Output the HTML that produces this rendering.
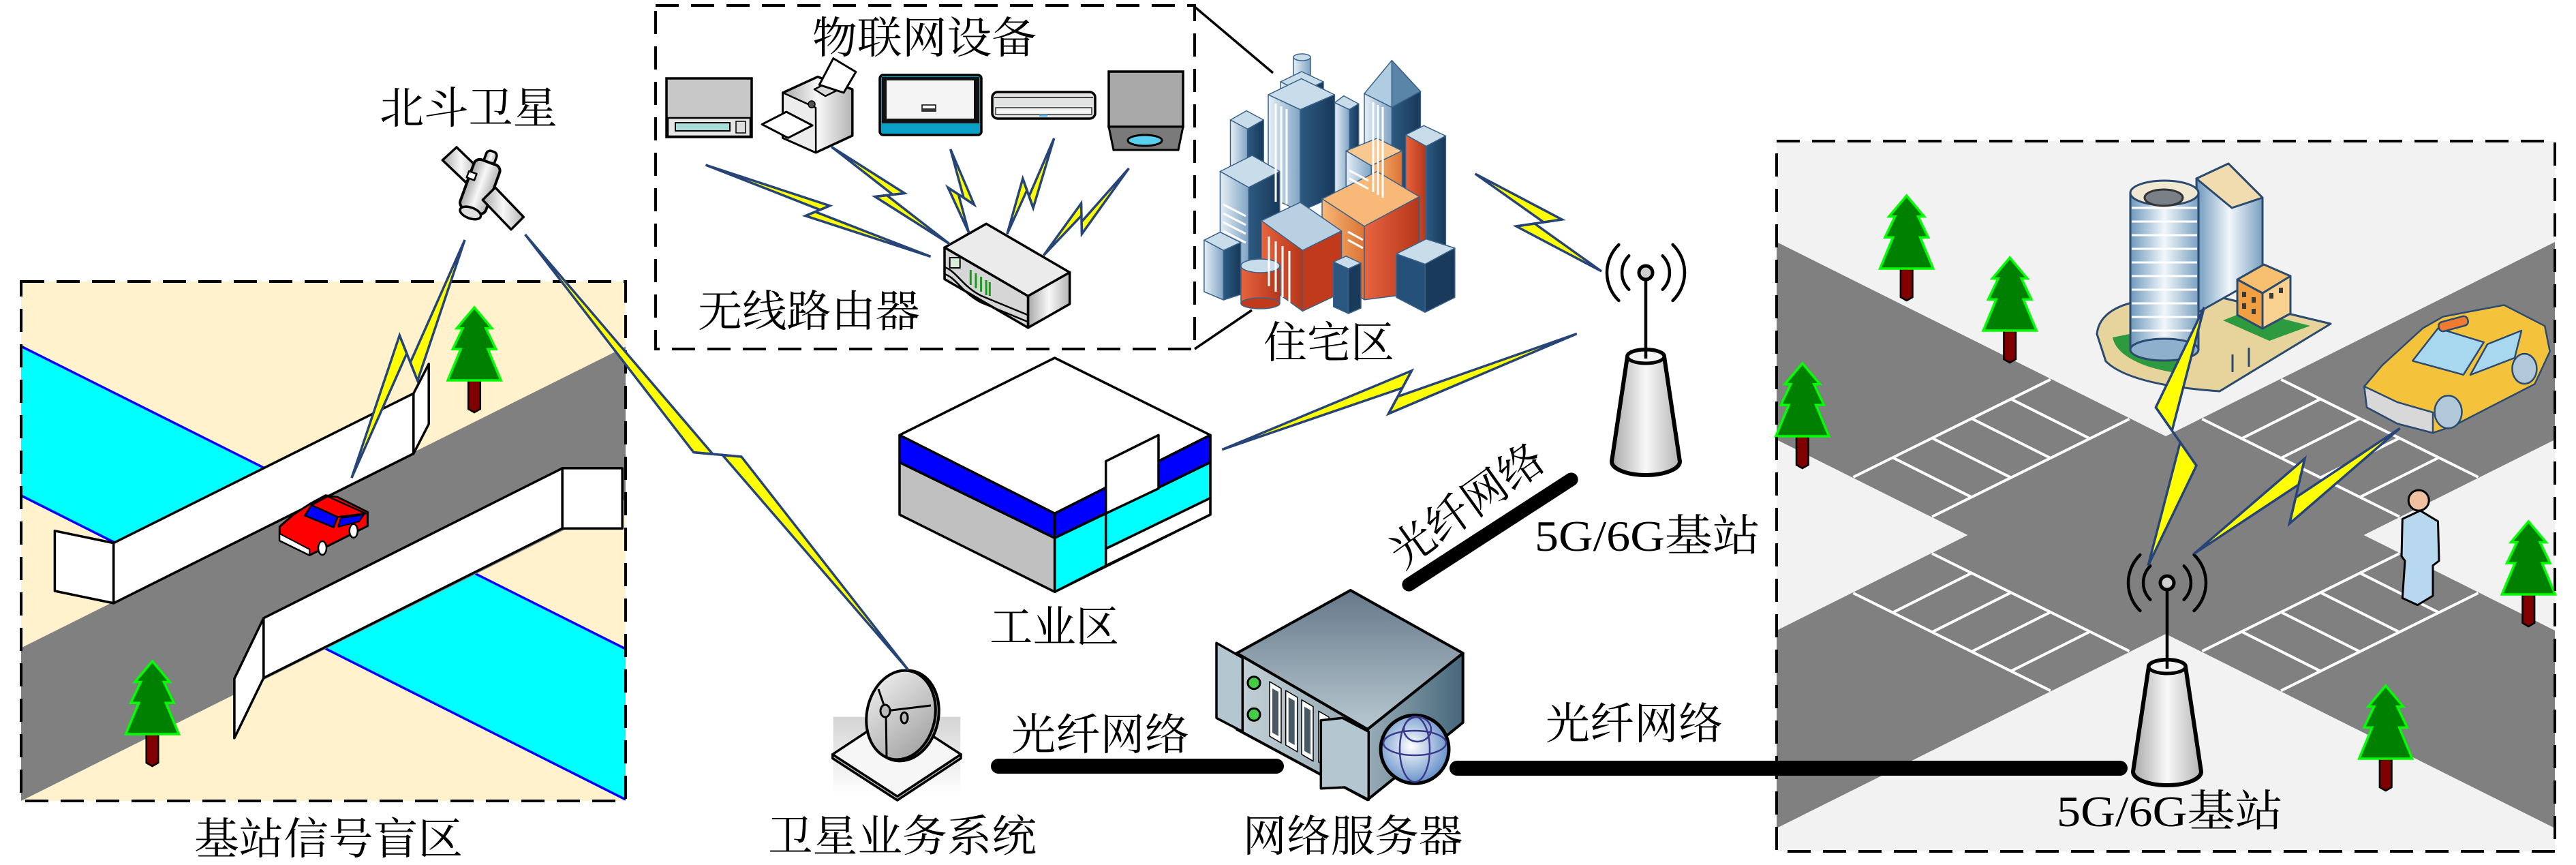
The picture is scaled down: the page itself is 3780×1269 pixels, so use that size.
<!DOCTYPE html>
<html><head><meta charset="utf-8"><style>
html,body{margin:0;padding:0;background:#fff;}
svg{display:block;}
text{font-family:"Liberation Serif","Noto Serif CJK SC","Noto Sans CJK SC",serif;fill:#000;font-size:64px;}
</style></head><body>
<svg width="3780" height="1269" viewBox="0 0 3780 1269" xmlns="http://www.w3.org/2000/svg">
<defs>
<linearGradient id="gMetal" x1="0" y1="0" x2="1" y2="0"><stop offset="0" stop-color="#a8a8a8"/><stop offset="0.5" stop-color="#f8f8f8"/><stop offset="1" stop-color="#b4b4b4"/></linearGradient>
<linearGradient id="gBg" x1="0" y1="0" x2="0" y2="1"><stop offset="0" stop-color="#d4d4d4"/><stop offset="1" stop-color="#ffffff"/></linearGradient>
<linearGradient id="gDish" x1="0" y1="0" x2="1" y2="1"><stop offset="0" stop-color="#f4f4f4"/><stop offset="1" stop-color="#9a9a9a"/></linearGradient>
<linearGradient id="lb" x1="0" y1="0" x2="1" y2="0"><stop offset="0" stop-color="#e6eff6"/><stop offset="1" stop-color="#7fa4c4"/></linearGradient>
<linearGradient id="nv" x1="0" y1="0" x2="1" y2="0"><stop offset="0" stop-color="#2d5a80"/><stop offset="1" stop-color="#173859"/></linearGradient>
<linearGradient id="rd" x1="0" y1="0" x2="1" y2="0"><stop offset="0" stop-color="#e8643e"/><stop offset="1" stop-color="#b5361a"/></linearGradient>
<linearGradient id="og" x1="0" y1="0" x2="1" y2="0"><stop offset="0" stop-color="#f6b878"/><stop offset="1" stop-color="#dc7434"/></linearGradient>
<linearGradient id="sTop" x1="0" y1="0" x2="0" y2="1"><stop offset="0" stop-color="#66798a"/><stop offset="1" stop-color="#b8c8d0"/></linearGradient>
<linearGradient id="sRight" x1="0" y1="0" x2="1" y2="0"><stop offset="0" stop-color="#98acb6"/><stop offset="1" stop-color="#45677a"/></linearGradient>
<linearGradient id="sFront" x1="0" y1="0" x2="1" y2="0"><stop offset="0" stop-color="#c4d2d8"/><stop offset="1" stop-color="#8ea2ac"/></linearGradient>
<radialGradient id="globe" cx="0.45" cy="0.45" r="0.6"><stop offset="0" stop-color="#ffffff"/><stop offset="1" stop-color="#5a88c4"/></radialGradient>
<linearGradient id="cyl" x1="0" y1="0" x2="1" y2="0"><stop offset="0" stop-color="#6e98bc"/><stop offset="0.5" stop-color="#f2f7fb"/><stop offset="1" stop-color="#7aa0c0"/></linearGradient>
<g id="tree">
 <polygon points="-8.8,104 8.8,104 8.8,149 0,154 -8.8,149" fill="#800000" stroke="#000" stroke-width="2.5"/>
 <polygon points="0,0 25.8,30.6 17,30.6 31.7,61.2 19.9,61.2 39,107 -39,107 -19.9,61.2 -31.7,61.2 -17,30.6 -25.8,30.6" fill="#008000" stroke="#00ff00" stroke-width="3.5"/>
</g>
<g id="tower">
 <g fill="none" stroke="#000" stroke-width="4.5" stroke-linecap="round">
  <path d="M -39.6 -41 A 57 57 0 0 0 -39.6 41"/>
  <path d="M 39.6 -41 A 57 57 0 0 1 39.6 41"/>
  <path d="M -24.7 -24.7 A 35 35 0 0 0 -24.7 24.7"/>
  <path d="M 24.7 -24.7 A 35 35 0 0 1 24.7 24.7"/>
 </g>
 <path d="M -27 123 L -50 277 A 50 20 0 0 0 50 277 L 27 123 A 27 10 0 0 0 -27 123 Z" fill="url(#gMetal)" stroke="#000" stroke-width="6"/>
 <ellipse cx="0" cy="123" rx="27" ry="10" fill="#f4f4f4" stroke="#000" stroke-width="5"/>
 <line x1="0" y1="10" x2="0" y2="126" stroke="#000" stroke-width="4.5"/>
 <circle cx="0" cy="0" r="10" fill="#cfcfcf" stroke="#000" stroke-width="5"/>
</g>
</defs>

<rect width="3780" height="1269" fill="#fff"/>

<!-- ============ LEFT BOX ============ -->
<rect x="31" y="413" width="887" height="762" fill="#fff2cc"/>
<polygon points="31,508 918,952 918,1173 31,727" fill="#00ffff"/>
<line x1="31" y1="508" x2="918" y2="952" stroke="#0000ff" stroke-width="3.5"/>
<line x1="31" y1="727" x2="918" y2="1173" stroke="#0000ff" stroke-width="3.5"/>
<polygon points="31,950.5 918,508.5 918,732.5 31,1175" fill="#808080"/>
<g fill="#fff" stroke="#000" stroke-width="3.5" stroke-linejoin="round">
 <polygon points="80.4,778.8 166.7,796.6 166.7,884.9 80.4,867"/>
 <polygon points="166.7,884.9 166.7,796.6 606.8,577.2 606.8,665.5"/>
 <polygon points="606.8,577.2 629.2,533.9 629.2,622.1 606.8,665.5"/>
</g>
<use href="#tree" x="696" y="451"/>
<!-- car -->
<g stroke="#000" stroke-linejoin="round">
 <polygon points="410.3,782.9 410.3,793 454.3,814.5 539.4,771.6 539.4,751.2 495.4,729.3 477.7,726.7 454.3,739.5 430.8,754.8 410.3,772.7" fill="#ff0000" stroke-width="3"/>
 <polygon points="410.3,782.9 454.3,806 454.3,814.5 410.3,793" fill="#fff" stroke-width="2"/>
 <polygon points="447.2,756.3 457.2,741 495.4,758.4 489.5,773.7" fill="#0000ff" stroke-width="2.5"/>
 <polygon points="457.2,741 480.7,728.3 536.4,753.3 495.4,758.4" fill="#ff0000" stroke-width="2.5"/>
 <polygon points="496,773 500,760 534,755 527,765" fill="#0000ff" stroke-width="2"/>
 <ellipse cx="473" cy="804" rx="6" ry="10" fill="#fff" stroke-width="2.5"/>
 <ellipse cx="518.8" cy="778.8" rx="6" ry="10" fill="#fff" stroke-width="2.5"/>
</g>
<g fill="#fff" stroke="#000" stroke-width="3.5" stroke-linejoin="round">
 <polygon points="386.8,906.8 825.2,686.9 825.2,775.2 386.8,994.6"/>
 <polygon points="386.8,906.8 343.9,995.6 343.9,1082.9 386.8,994.6"/>
 <rect x="825.2" y="686.9" width="88" height="88.3"/>
</g>
<use href="#tree" x="223.5" y="970"/>
<rect x="31" y="413" width="887" height="762" fill="none" stroke="#000" stroke-width="4" stroke-dasharray="34 18"/>
<text x="482" y="1253" text-anchor="middle" textLength="394" lengthAdjust="spacingAndGlyphs">基站信号盲区</text>

<!-- ============ SATELLITE ============ -->
<text x="687.5" y="181" text-anchor="middle" textLength="261" lengthAdjust="spacingAndGlyphs">北斗卫星</text>
<g stroke="#000" stroke-linejoin="round">
 <polygon points="649.3,235 670,216 703.3,248.3 683.3,267.3" fill="url(#gMetal)" stroke-width="3.5"/>
 <g transform="rotate(20 705 272)">
  <rect x="697" y="219" width="16" height="22" rx="6" fill="url(#gMetal)" stroke-width="3.5"/>
  <rect x="685" y="236" width="40" height="76" rx="9" fill="url(#gMetal)" stroke-width="4"/>
  <rect x="682" y="258" width="12" height="10" fill="#fff" stroke-width="2.5"/>
  <ellipse cx="705" cy="315" rx="16" ry="8" fill="#e0e0e0" stroke-width="3.5"/>
 </g>
 <polygon points="708.3,293.3 726.7,275 768.3,318.3 750,336.7" fill="url(#gMetal)" stroke-width="3.5"/>
</g>

<!-- ============ IoT BOX ============ -->
<rect x="962" y="8" width="791" height="504" fill="none" stroke="#000" stroke-width="4" stroke-dasharray="34 18"/>
<line x1="1753" y1="10" x2="1868" y2="107" stroke="#000" stroke-width="3.5"/>
<line x1="1753" y1="512" x2="1837" y2="455" stroke="#000" stroke-width="3.5"/>
<text x="1356.5" y="78" text-anchor="middle" textLength="329" lengthAdjust="spacingAndGlyphs">物联网设备</text>
<text x="1187" y="479" text-anchor="middle" textLength="326" lengthAdjust="spacingAndGlyphs">无线路由器</text>
<!-- microwave -->
<rect x="978" y="115" width="125" height="86" fill="#c8c8c8" stroke="#000" stroke-width="3.5"/>
<rect x="980" y="173" width="121" height="27" fill="#e6e6e6" stroke="#000" stroke-width="2.5"/>
<rect x="991" y="180" width="80" height="12" fill="#a8dcd8" stroke="#000" stroke-width="2"/>
<rect x="1080" y="178" width="14" height="17" fill="#ddd" stroke="#000" stroke-width="1.5"/>
<!-- printer -->
<g stroke="#000" stroke-linejoin="round">
 <polygon points="1148.8,136 1199.8,112.7 1250.8,131 1250.8,199 1197.2,223.8 1148.8,202.3" fill="url(#gMetal)" stroke-width="3.5"/>
 <polygon points="1148.8,136 1197,158 1197.2,223.8 1148.8,202.3" fill="#ececec" stroke-width="2.5"/>
 <polygon points="1195,131 1225,116 1242,126 1211,141" fill="#d8d8d8" stroke-width="2.5"/>
 <polygon points="1202.3,124.4 1222.8,85.6 1255.9,105.5 1238,136" fill="#fff" stroke-width="3"/>
 <polygon points="1118.2,182.4 1153.9,164.1 1192.1,184 1156.4,202.3" fill="#fff" stroke-width="3"/>
 <circle cx="1191" cy="153" r="5" fill="#555" stroke-width="1.5"/>
</g>
<!-- scanner -->
<rect x="1291" y="110" width="149" height="88" rx="5" fill="#0aa0c8" stroke="#000" stroke-width="3.5"/>
<rect x="1294" y="113" width="143" height="68" fill="#111"/>
<rect x="1301" y="118" width="128" height="56" fill="#f4f4f4"/>
<rect x="1353" y="154" width="20" height="9" fill="#fff" stroke="#000" stroke-width="1.5"/>
<rect x="1353" y="159" width="20" height="4" fill="#333"/>
<!-- AC -->
<rect x="1456" y="135" width="151" height="39" rx="8" fill="#e2e4e4" stroke="#000" stroke-width="3.5"/>
<line x1="1459" y1="143" x2="1604" y2="143" stroke="#444" stroke-width="2"/>
<rect x="1461" y="158" width="141" height="10" fill="#f4f4f4" stroke="#333" stroke-width="1.5"/>
<rect x="1525" y="168" width="12" height="3" fill="#5ab0f0"/>
<!-- projector -->
<rect x="1627" y="105" width="109" height="81" fill="#a8a8a8" stroke="#000" stroke-width="3.5"/>
<polygon points="1627,186 1736,186 1729,220 1634,220" fill="#7a7a7a" stroke="#000" stroke-width="3"/>
<ellipse cx="1680" cy="206" rx="25" ry="8" fill="#5ad0f0" stroke="#000" stroke-width="3"/>
<!-- router -->
<g stroke="#000" stroke-linejoin="round">
 <polygon points="1386,363.1 1447.2,328.3 1569.7,399.6 1508.5,434.4" fill="#ebebeb" stroke-width="3.5"/>
 <polygon points="1508.5,434.4 1569.7,399.6 1569.7,446 1508.5,480.8" fill="url(#gMetal)" stroke-width="3.5"/>
 <polygon points="1386,363.1 1508.5,434.4 1508.5,480.8 1386,409.5" fill="#d6d6d6" stroke-width="3.5"/>
 <path d="M1386,392 C1404,398 1412,420 1440,434 L1508,462" fill="none" stroke-width="2.5"/>
 <path d="M1386,402 C1404,408 1412,430 1440,444 L1508,472" fill="none" stroke-width="2.5"/>
 <rect x="1393.7" y="378" width="15" height="15" fill="#d8eed8" stroke-width="2"/>
</g>
<g stroke="#1a9a1a" stroke-width="3">
 <line x1="1424.3" y1="396" x2="1424.3" y2="418"/>
 <line x1="1432" y1="401" x2="1432" y2="423"/>
 <line x1="1439.6" y1="406" x2="1439.6" y2="428"/>
 <line x1="1447.2" y1="411" x2="1447.2" y2="433"/>
 <line x1="1452.3" y1="414" x2="1452.3" y2="434"/>
</g>

<!-- ============ CITY ============ -->
<g stroke="#3a6288" stroke-width="1.5" stroke-linejoin="round">
 <polygon points="2002,137.3 2042.4,157.4 2042.4,300 2002,280" fill="url(#lb)"/>
 <polygon points="2042.4,157.4 2084.4,134 2084.4,280 2042.4,300" fill="url(#nv)"/>
 <polygon points="2002,137.3 2042.4,88.6 2042.4,157.4" fill="#b0cce0"/>
 <polygon points="2042.4,88.6 2084.4,134 2042.4,157.4" fill="#5a84a8"/>
 <polygon points="1958.4,150.7 1971.8,140.6 1993.7,152.4 1980.2,160.8" fill="#c8dcea"/>
 <polygon points="1958.4,150.7 1980.2,160.8 1980.2,300 1958.4,290" fill="url(#lb)"/>
 <polygon points="1980.2,160.8 1993.7,152.4 1993.7,290 1980.2,300" fill="url(#nv)"/>
 <rect x="1898" y="84" width="25" height="30" fill="url(#lb)"/>
 <ellipse cx="1910.5" cy="84" rx="12.5" ry="5" fill="#c8dcea"/>
 <polygon points="1879,120 1910,105 1942,120 1910,135" fill="#c8dcea"/>
 <polygon points="1879,120 1910,135 1910,150 1879,135" fill="url(#lb)"/>
 <polygon points="1910,135 1942,120 1942,135 1910,150" fill="url(#nv)"/>
 <polygon points="1861,139 1909.7,115.4 1958.4,139 1908,160.8" fill="#c8dcea"/>
 <polygon points="1861,139 1908,160.8 1908,310 1861,288" fill="url(#lb)"/>
 <polygon points="1908,160.8 1958.4,139 1958.4,288 1908,310" fill="url(#nv)"/>
 <polygon points="2062.6,197.8 2089.4,184.3 2121.4,199.4 2092.8,214.6" fill="#c8dcea"/>
 <polygon points="2062.6,197.8 2092.8,214.6 2092.8,446 2062.6,430" fill="url(#rd)"/>
 <polygon points="2092.8,214.6 2121.4,199.4 2121.4,430 2092.8,446" fill="url(#nv)"/>
 <polygon points="1805.5,176 1829,162.5 1854.2,176 1830.7,189.4" fill="#c8dcea"/>
 <polygon points="1805.5,176 1830.7,189.4 1830.7,262 1805.5,250" fill="url(#lb)"/>
 <polygon points="1830.7,189.4 1854.2,176 1854.2,250 1830.7,262" fill="url(#nv)"/>
 <polygon points="1790.4,251.5 1837.4,228 1877.8,251.5 1832.4,275" fill="#c8dcea"/>
 <polygon points="1790.4,251.5 1832.4,275 1832.4,430 1790.4,410" fill="url(#lb)"/>
 <polygon points="1832.4,275 1877.8,251.5 1877.8,410 1832.4,430" fill="url(#nv)"/>
 <polygon points="1766.9,352.3 1790.4,340.6 1820.6,355.7 1795.4,367.4" fill="#c8dcea"/>
 <polygon points="1766.9,352.3 1795.4,367.4 1795.4,440 1766.9,428" fill="url(#lb)"/>
 <polygon points="1795.4,367.4 1820.6,355.7 1820.6,432 1795.4,440" fill="url(#nv)"/>
 <polygon points="1975.2,221.3 2020.6,202.8 2057.5,221.3 2012.2,243.1" fill="#f8c890"/>
 <polygon points="1975.2,221.3 2012.2,243.1 2012.2,300 1975.2,280" fill="url(#lb)"/>
 <polygon points="2012.2,243.1 2057.5,221.3 2057.5,280 2012.2,300" fill="url(#og)"/>
 <polygon points="1940,291.8 2020.6,251.5 2082.7,288.5 2002,332" fill="#f8b878"/>
 <polygon points="1940,291.8 2002,332 2002,439.7 1940,399.4" fill="url(#og)"/>
 <polygon points="2002,332 2082.7,288.5 2082.7,429.6 2002,439.7" fill="url(#rd)"/>
 <polygon points="1850.9,323.8 1908,296.9 1968.5,338.9 1911.4,367.4" fill="#b8d0e2"/>
 <polygon points="1850.9,323.8 1911.4,367.4 1911.4,456.5 1850.9,412.8" fill="url(#rd)"/>
 <polygon points="1911.4,367.4 1968.5,338.9 1968.5,429.6 1911.4,456.5" fill="#c23a1c"/>
 <rect x="1821" y="390" width="57" height="55" fill="url(#rd)"/>
 <ellipse cx="1849.5" cy="445" rx="28.5" ry="8" fill="#c23a1c"/>
 <ellipse cx="1849.5" cy="390" rx="28.5" ry="10" fill="#c8dcea"/>
 <polygon points="1956.7,384.2 1975.2,375.8 1997,386 1978.6,394.3" fill="#c8dcea"/>
 <polygon points="1956.7,384.2 1978.6,394.3 1978.6,460 1956.7,450" fill="#2a5680"/>
 <polygon points="1978.6,394.3 1997,386 1997,452 1978.6,460" fill="#1a3a5c"/>
 <polygon points="2049,372.5 2092.8,350.6 2134.8,364 2091.1,387.6" fill="#c8dcea"/>
 <polygon points="2049,372.5 2091.1,387.6 2091.1,458.2 2049,436.3" fill="#24507a"/>
 <polygon points="2091.1,387.6 2134.8,364 2134.8,436.3 2091.1,458.2" fill="#1a3a5c"/>
</g>
<g stroke="#fff" stroke-width="3">
 <line x1="1872" y1="152" x2="1872" y2="296"/>
 <line x1="1880" y1="156" x2="1880" y2="298"/>
 <line x1="1888" y1="160" x2="1888" y2="300"/>
 <line x1="2015" y1="150" x2="2015" y2="282"/>
 <line x1="2022" y1="154" x2="2022" y2="286"/>
 <line x1="2029" y1="157" x2="2029" y2="290"/>
 <line x1="1795" y1="300" x2="1828" y2="317"/>
 <line x1="1795" y1="313" x2="1828" y2="330"/>
 <line x1="1795" y1="326" x2="1828" y2="343"/>
 <line x1="1795" y1="339" x2="1828" y2="356"/>
 <line x1="1862" y1="347" x2="1862" y2="420"/>
 <line x1="1872" y1="354" x2="1872" y2="428"/>
 <line x1="1882" y1="361" x2="1882" y2="436"/>
 <line x1="1892" y1="368" x2="1892" y2="444"/>
 <line x1="1980" y1="250" x2="2008" y2="265"/>
 <line x1="1980" y1="262" x2="2008" y2="277"/>
 <line x1="1978" y1="340" x2="2000" y2="352"/>
 <line x1="1978" y1="352" x2="2000" y2="364"/>
</g>
<text x="1950" y="525" text-anchor="middle" textLength="192" lengthAdjust="spacingAndGlyphs">住宅区</text>

<!-- ============ INDUSTRIAL ============ -->
<g stroke="#000" stroke-width="3.5" stroke-linejoin="round">
 <polygon points="1320,638.3 1547.7,525 1776,638.3 1547.7,753.3" fill="#fff"/>
 <polygon points="1320,678.3 1547.7,789.3 1547.7,868.3 1320,755" fill="#c0c0c0"/>
 <polygon points="1320,638.3 1547.7,753.3 1547.7,789.3 1320,678.3" fill="#0000ff"/>
 <polygon points="1547.7,753.3 1776,638.3 1776,755 1547.7,868.3" fill="#fff"/>
 <polygon points="1547.7,753.3 1776,638.3 1776,678.3 1547.7,789.3" fill="#0000ff"/>
 <polygon points="1547.7,789.3 1622.7,753.3 1622.7,830 1547.7,868.3" fill="#00ffff"/>
 <polygon points="1622.7,753.3 1776,678.3 1776,730.7 1622.7,805" fill="#00ffff"/>
 <polygon points="1622.7,805 1776,730.7 1776,755 1622.7,830" fill="#fff"/>
 <polygon points="1622.7,676.7 1700,638.3 1700,716.7 1622.7,753.3" fill="#fff"/>
</g>
<text x="1547" y="942" text-anchor="middle" textLength="190" lengthAdjust="spacingAndGlyphs">工业区</text>

<!-- ============ DISH ============ -->
<rect x="1222.7" y="1051.7" width="186.6" height="115" fill="url(#gBg)"/>
<g stroke="#000" stroke-linejoin="round">
 <polygon points="1221.7,1106.7 1316.7,1168.3 1410,1106.7 1410,1112.5 1316.7,1174 1221.7,1112.5" fill="#c8c8c8" stroke-width="3.5"/>
 <polygon points="1221.7,1106.7 1315,1045 1410,1106.7 1316.7,1168.3" fill="#f6f6f6" stroke-width="3.5"/>
 <ellipse cx="1326" cy="1050" rx="51" ry="67" transform="rotate(12 1326 1050)" fill="#aaa" stroke-width="4"/>
 <ellipse cx="1322" cy="1049" rx="50" ry="66" transform="rotate(12 1322 1049)" fill="url(#gDish)" stroke-width="4"/>
 <line x1="1300" y1="1043" x2="1289" y2="1011" stroke-width="3"/>
 <line x1="1300" y1="1043" x2="1366" y2="1035" stroke-width="3"/>
 <line x1="1300" y1="1043" x2="1301" y2="1110" stroke-width="3"/>
 <ellipse cx="1299" cy="1043" rx="7" ry="9" fill="#bbb" stroke-width="3"/>
 <ellipse cx="1327" cy="1053" rx="5" ry="8" fill="#bbb" stroke-width="3"/>
</g>
<text x="1324" y="1249" text-anchor="middle" textLength="394" lengthAdjust="spacingAndGlyphs">卫星业务系统</text>

<!-- ============ SERVER ============ -->
<g stroke="#000" stroke-linejoin="round">
 <polygon points="1815,958.3 1981.7,866 2146.7,958.3 2006.7,1070" fill="url(#sTop)" stroke-width="4"/>
 <polygon points="2006.7,1070 2146.7,958.3 2146.7,1060 2006.7,1173.3" fill="url(#sRight)" stroke-width="4"/>
 <polygon points="1815,958.3 2006.7,1070 2006.7,1173.3 1815,1070" fill="url(#sFront)" stroke-width="4"/>
 <polygon points="1863,1000 1880,1010 1880,1090 1863,1080" fill="#fff" stroke-width="1.5"/>
 <polygon points="1886.7,1013 1903.7,1023 1903.7,1103 1886.7,1093" fill="#fff" stroke-width="1.5"/>
 <polygon points="1910,1026.7 1927,1036.7 1927,1116.7 1910,1106.7" fill="#fff" stroke-width="1.5"/>
 <polygon points="1935,1043.3 1950,1052 1950,1125 1935,1118" fill="#fff" stroke-width="1.5"/>
 <polygon points="1867,1010 1876,1015 1876,1080 1867,1075" fill="#4a5a64" stroke="none"/>
 <polygon points="1890.7,1023 1899.7,1028 1899.7,1093 1890.7,1088" fill="#4a5a64" stroke="none"/>
 <polygon points="1914,1036.7 1923,1041.7 1923,1106.7 1914,1101.7" fill="#4a5a64" stroke="none"/>
 <circle cx="1840" cy="1001.7" r="9" fill="#44cc44" stroke-width="3"/>
 <circle cx="1840" cy="1048.3" r="9" fill="#44cc44" stroke-width="3"/>
 <polygon points="1785,943.3 1823.3,965 1823.3,1073.3 1785,1053.3" fill="#b4c6d0" stroke-width="3.5"/>
 <polygon points="1938.3,1056.7 1970,1053.3 2008.3,1073.3 2008.3,1173.3 1973.3,1155 1938.3,1156.7" fill="#b4c6d0" stroke-width="3.5"/>
 <circle cx="2076" cy="1099.3" r="50" fill="url(#globe)" stroke-width="5"/>
</g>
<g fill="none" stroke="#3a3a8a" stroke-width="2.5">
 <ellipse cx="2076" cy="1099.3" rx="22" ry="48"/>
 <ellipse cx="2076" cy="1090" rx="46" ry="18"/>
 <ellipse cx="2080" cy="1070" rx="20" ry="18"/>
</g>
<text x="1985" y="1249" text-anchor="middle" textLength="323" lengthAdjust="spacingAndGlyphs">网络服务器</text>

<!-- ============ RIGHT BOX ============ -->
<rect x="2607" y="207" width="1142" height="1042" fill="#f2f2f2"/>
<polygon points="2607,355 3749,925 3749,1215 2607,645" fill="#808080"/>
<polygon points="2607,925 3749,355 3749,645 2607,1215" fill="#808080"/>
<g stroke="#fff" stroke-width="4">
 <line x1="2719.4" y1="700" x2="3008.9" y2="556.7"/><line x1="2835.1" y1="758" x2="3124.6" y2="614.7"/>
 <line x1="2777.3" y1="671.3" x2="2893" y2="729.3"/><line x1="2835.2" y1="642.7" x2="2950.9" y2="700.7"/>
 <line x1="2893.1" y1="614" x2="3008.8" y2="672"/><line x1="2951" y1="585.4" x2="3066.7" y2="643.4"/>
 <line x1="3636.6" y1="700" x2="3347.1" y2="556.7"/><line x1="3520.9" y1="758" x2="3231.4" y2="614.7"/>
 <line x1="3578.7" y1="671.3" x2="3463" y2="729.3"/><line x1="3520.8" y1="642.7" x2="3405.1" y2="700.7"/>
 <line x1="3462.9" y1="614" x2="3347.2" y2="672"/><line x1="3405" y1="585.4" x2="3289.3" y2="643.4"/>
 <line x1="2719.4" y1="870" x2="3008.9" y2="1013.3"/><line x1="2835.1" y1="812" x2="3124.6" y2="955.3"/>
 <line x1="2777.3" y1="898.7" x2="2893" y2="840.7"/><line x1="2835.2" y1="927.3" x2="2950.9" y2="869.3"/>
 <line x1="2893.1" y1="956" x2="3008.8" y2="898"/><line x1="2951" y1="984.6" x2="3066.7" y2="926.6"/>
 <line x1="3636.6" y1="870" x2="3347.1" y2="1013.3"/><line x1="3520.9" y1="812" x2="3231.4" y2="955.3"/>
 <line x1="3578.7" y1="898.7" x2="3463" y2="840.7"/><line x1="3520.8" y1="927.3" x2="3405.1" y2="869.3"/>
 <line x1="3462.9" y1="956" x2="3347.2" y2="898"/><line x1="3405" y1="984.6" x2="3289.3" y2="926.6"/>
</g>
<use href="#tree" x="2797.7" y="287"/>
<use href="#tree" x="2949.2" y="378"/>
<use href="#tree" x="2644.8" y="533"/>
<use href="#tree" x="3710.3" y="765"/>
<use href="#tree" x="3500.7" y="1006"/>
<!-- office building -->
<g stroke="#2a4a70" stroke-width="3" stroke-linejoin="round">
 <path d="M3077,490 C3080,460 3110,445 3150,440 L3249,434 L3420,475 L3257,574 C3200,570 3120,560 3090,530 Z" fill="#e6d49c"/>
 <path d="M3100,495 C3105,520 3140,540 3200,548 L3210,525 C3160,520 3130,510 3125,490 Z" fill="#2e9a40" stroke="none"/>
 <polygon points="3262,470 3300,455 3390,478 3330,500" fill="#2e9a40" stroke="none"/>
 <polygon points="3223,262 3270,240 3320,290 3320,405 3226,458" fill="url(#cyl)"/>
 <polygon points="3223,262 3270,240 3320,290 3275,305" fill="#f0dcae"/>
 <rect x="3126" y="283" width="100" height="230" fill="url(#cyl)"/>
 <ellipse cx="3176" cy="513" rx="50" ry="16" fill="#8fb0cc"/>
 <ellipse cx="3176" cy="283" rx="50" ry="18" fill="#f0e8d0"/>
 <ellipse cx="3175" cy="290" rx="28" ry="12" fill="#7a8088" stroke="#333"/>
 <polygon points="3283,410 3320,430 3320,482 3283,462" fill="#f0a040"/>
 <polygon points="3320,430 3361,405 3361,460 3320,482" fill="#f8d090"/>
 <polygon points="3283,410 3322,388 3361,405 3320,430" fill="#f6c070"/>
 <line x1="3276" y1="520" x2="3276" y2="546"/>
 <line x1="3300" y1="510" x2="3300" y2="538"/>
</g>
<g stroke="#fff" stroke-width="3">
 <line x1="3128" y1="305" x2="3224" y2="305"/><line x1="3128" y1="325" x2="3224" y2="325"/>
 <line x1="3128" y1="345" x2="3224" y2="345"/><line x1="3128" y1="365" x2="3224" y2="365"/>
 <line x1="3128" y1="385" x2="3224" y2="385"/><line x1="3128" y1="405" x2="3224" y2="405"/>
 <line x1="3128" y1="425" x2="3224" y2="425"/><line x1="3128" y1="445" x2="3224" y2="445"/>
 <line x1="3128" y1="465" x2="3224" y2="465"/><line x1="3128" y1="485" x2="3224" y2="485"/>
</g>
<g fill="#3a3a3a">
 <rect x="3290" y="428" width="6" height="8"/><rect x="3304" y="436" width="6" height="8"/>
 <rect x="3290" y="445" width="6" height="8"/><rect x="3304" y="453" width="6" height="8"/>
 <rect x="3330" y="430" width="6" height="8"/><rect x="3344" y="422" width="6" height="8"/>
</g>
<!-- taxi -->
<g stroke="#2a4a70" stroke-width="2.5" stroke-linejoin="round">
 <polygon points="3469.3,566.9 3495.4,536.2 3555.1,481.6 3585,464.5 3674.5,447.5 3734.2,478.2 3741.7,515.7 3719.3,563.5 3599.9,624.9 3570,635.1 3517.8,621.5 3473,597.6" fill="#f5c33b"/>
 <polygon points="3469.3,566.9 3517.8,590 3570,605 3570,635.1 3517.8,621.5 3473,597.6" fill="#d8d8d8"/>
 <polygon points="3540.2,529.4 3577.5,481.6 3644.7,502.1 3614.8,549.8" fill="#a8d8f0"/>
 <polygon points="3625,550 3650,505 3700,485 3690,525" fill="#a8d8f0"/>
 <rect x="3578" y="468" width="44" height="14" rx="6" transform="rotate(-15 3600 475)" fill="#f07a30"/>
 <ellipse cx="3592.5" cy="604.4" rx="20" ry="24" fill="#b0c8d8"/>
 <ellipse cx="3704.4" cy="541" rx="18" ry="22" fill="#b0c8d8"/>
</g>
<!-- person -->
<g stroke="#000" stroke-width="3" stroke-linejoin="round">
 <polygon points="3525.3,761.4 3551.4,749.1 3577.5,764.8 3579,822.8 3570,829.6 3570,874 3547.5,887.6 3525.3,877.4 3529,822.8 3524,816" fill="#b8d8f0"/>
 <circle cx="3549.2" cy="734.1" r="15" fill="#f0c0a0"/>
</g>
<rect x="2607" y="207" width="1142" height="1042" fill="none" stroke="#000" stroke-width="4" stroke-dasharray="34 18"/>

<!-- ============ FIBER LINES ============ -->
<g stroke="#000" stroke-width="22" stroke-linecap="round">
 <line x1="1465" y1="1124" x2="1873" y2="1124"/>
 <line x1="2138" y1="1127" x2="3111" y2="1127"/>
 <line x1="2067.4" y1="857.6" x2="2305.6" y2="703.4" stroke-width="20"/>
</g>
<text x="1614.5" y="1100" text-anchor="middle" textLength="261" lengthAdjust="spacingAndGlyphs">光纤网络</text>
<text x="2398" y="1084" text-anchor="middle" textLength="260" lengthAdjust="spacingAndGlyphs">光纤网络</text>
<text x="2151" y="764" text-anchor="middle" textLength="261" lengthAdjust="spacingAndGlyphs" transform="rotate(-35.6 2151 740)">光纤网络</text>

<!-- ============ TOWERS ============ -->
<use href="#tower" x="2415" y="400"/>
<use href="#tower" x="3180" y="855"/>
<text x="2417.5" y="808" text-anchor="middle" textLength="331" lengthAdjust="spacingAndGlyphs">5G/6G基站</text>
<text x="3184" y="1212" text-anchor="middle" textLength="332" lengthAdjust="spacingAndGlyphs">5G/6G基站</text>

<!-- ============ LIGHTNING BOLTS ============ -->
<g fill="#ffff00" stroke="#264478" stroke-width="3.5" stroke-linejoin="miter">
 <polygon points="682,352 612.7,558.4 602.1,531.8"/><polygon points="516,701 586.3,492 596.9,518.6"/>
 <polygon points="770.6,344 1017.8,663.6 1045.9,666.2"/><polygon points="1332.9,983 1088,670 1060,667.4"/>
 <polygon points="2164.7,255 2292,322 2265.2,326"/><polygon points="2350,398 2225,332 2251.8,328"/>
 <polygon points="1793.3,659.6 2071.4,543.9 2057.8,569.1"/><polygon points="2313.8,489.6 2037.5,607 2051.1,581.8"/>
 <polygon points="3234.3,451 3163.4,597.6 3187.2,631.8"/><polygon points="3152.2,829.6 3223,683 3199.2,648.8"/>
 <polygon points="3521.6,628.3 3359.6,768.2 3368.6,730"/><polygon points="3219.3,812.6 3382,672.7 3373,710.9"/>
 <polygon points="1035.5,242 1217.6,301.8 1203.4,307.8"/><polygon points="1365.6,376.4 1182,316.7 1196.2,310.7"/>
 <polygon points="1220.2,215.5 1327.3,283.5 1310,285.5"/><polygon points="1393.7,358.1 1284,288.5 1301.3,286.5"/>
 <polygon points="1394.7,218.9 1429.4,300.1 1414.1,290.1"/><polygon points="1421.7,341.5 1391.1,275.2 1406.4,285.2"/>
 <polygon points="1546.7,203 1516.1,305 1510,287.8"/><polygon points="1477.9,343.2 1500.8,262 1506.9,279.2"/>
 <polygon points="1656.4,247 1587.5,343.2 1587.1,325.3"/><polygon points="1531.4,374.7 1586.5,298.4 1586.9,316.3"/>
</g>
<g stroke="#264478" stroke-width="3.5" fill="none">
 <line x1="612.7" y1="558.4" x2="586.3" y2="492"/>
 <line x1="1017.8" y1="663.6" x2="1088" y2="670"/>
 <line x1="2292" y1="322" x2="2225" y2="332"/>
 <line x1="2071.4" y1="543.9" x2="2037.5" y2="607"/>
 <line x1="3163.4" y1="597.6" x2="3223" y2="683"/>
 <line x1="3359.6" y1="768.2" x2="3382" y2="672.7"/>
 <line x1="1217.6" y1="301.8" x2="1182" y2="316.7"/>
 <line x1="1327.3" y1="283.5" x2="1284" y2="288.5"/>
 <line x1="1429.4" y1="300.1" x2="1391.1" y2="275.2"/>
 <line x1="1516.1" y1="305" x2="1500.8" y2="262"/>
 <line x1="1587.5" y1="343.2" x2="1586.5" y2="298.4"/>
</g>
</svg>
</body></html>
